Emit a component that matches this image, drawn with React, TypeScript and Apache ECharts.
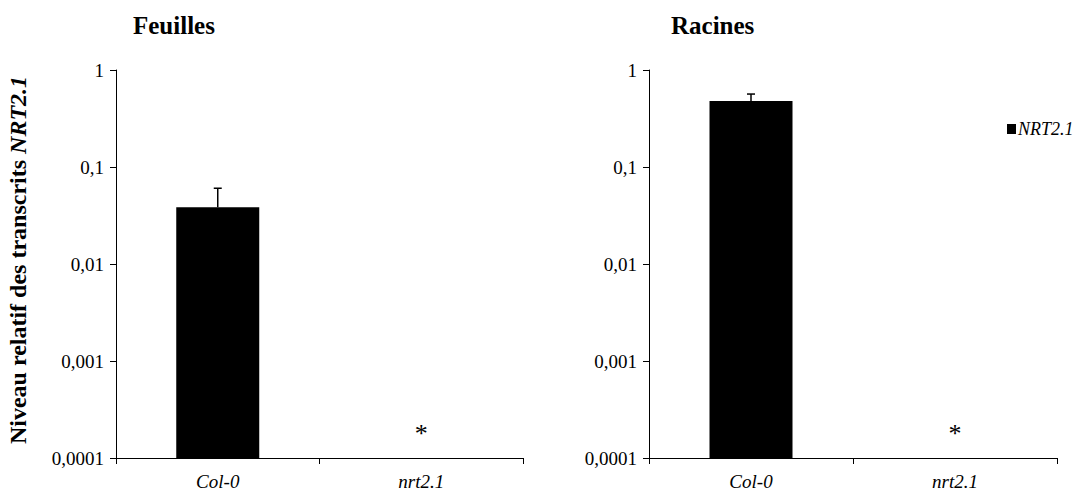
import React, { useEffect, useRef } from "react";
import * as echarts from "echarts";

const categories = ["Col-0", "nrt2.1"];
const panelTitles = ["Feuilles", "Racines"];
const seriesName = "NRT2.1";
const feuillesValues = [0.0384, null];
const feuillesErrors = [0.022, null];
const racinesValues = [0.479, null];
const racinesErrors = [0.086, null];
const asteriskValue = [null, 0.00018];
const yTickLabels = ["0,0001", "0,001", "0,01", "0,1", "1"];
const yMin = 0.0001;
const yMax = 1;

const FONT = "Liberation Serif";

export default function App() {
  const ref = useRef<HTMLDivElement>(null);
  useEffect(() => {
    document.body.style.margin = "0";
    const chart = echarts.init(ref.current!, null, { renderer: "svg" });
    const grids = [
      { left: 116, top: 70, width: 407, height: 388 },
      { left: 649, top: 70, width: 408, height: 388 },
    ];
    const valuesArr = [feuillesValues, racinesValues];
    const errArr = [feuillesErrors, racinesErrors];

    const xAxes = grids.map((_, i) => ({
      type: "category",
      gridIndex: i,
      data: categories,
      axisLine: { lineStyle: { color: "#000", width: 1 } },
      axisTick: { show: true, length: 6, lineStyle: { color: "#000" } },
      axisLabel: {
        color: "#000",
        fontFamily: FONT,
        fontStyle: "italic",
        fontSize: 19,
        margin: 14,
      },
    }));
    const yAxes = grids.map((_, i) => ({
      type: "log",
      logBase: 10,
      gridIndex: i,
      min: yMin,
      max: yMax,
      splitLine: { show: false },
      axisLine: { show: true, lineStyle: { color: "#000", width: 1 } },
      axisTick: { show: true, length: 6, lineStyle: { color: "#000" } },
      axisLabel: {
        color: "#000",
        fontFamily: FONT,
        fontSize: 19,
        margin: 12,
        formatter: (v: number) => {
          const e = Math.round(Math.log10(v));
          return yTickLabels[e + 4] ?? "";
        },
      },
      ...(i === 0
        ? {
            name: "{a|Niveau relatif des transcrits }{b|NRT2.1}",
            nameLocation: "middle",
            nameGap: 86,
            nameRotate: 90,
            nameTextStyle: {
              padding: [0, 0, 0, 8],
              rich: {
                a: { fontFamily: FONT, fontWeight: "bold", fontSize: 24, color: "#000" },
                b: {
                  fontFamily: FONT,
                  fontWeight: "bold",
                  fontStyle: "italic",
                  fontSize: 24,
                  color: "#000",
                },
              },
            },
          }
        : {}),
    }));

    const series: any[] = [];
    grids.forEach((_, i) => {
      series.push({
        name: seriesName,
        type: "custom",
        xAxisIndex: i,
        yAxisIndex: i,
        itemStyle: { color: "#000" },
        data: valuesArr[i]
          .map((v, k) => (v == null ? null : [k, v]))
          .filter((d) => d != null),
        renderItem: (params: any, api: any) => {
          const x = api.value(0);
          const v = api.value(1);
          const top = api.coord([x, v]);
          const base = api.coord([x, yMin]);
          const w = 83;
          return {
            type: "rect",
            shape: { x: top[0] - w / 2, y: top[1], width: w, height: base[1] - top[1] },
            style: { fill: "#000" },
          };
        },
        z: 2,
      });
      series.push({
        type: "custom",
        xAxisIndex: i,
        yAxisIndex: i,
        data: valuesArr[i]
          .map((v, k) => (v == null ? null : [k, v, errArr[i][k]]))
          .filter((d) => d != null),
        renderItem: (params: any, api: any) => {
          const x = api.value(0);
          const v = api.value(1);
          const e = api.value(2);
          const p0 = api.coord([x, v]);
          const p1 = api.coord([x, v + e]);
          return {
            type: "group",
            children: [
              {
                type: "line",
                shape: { x1: p0[0], y1: p0[1], x2: p1[0], y2: p1[1] },
                style: { stroke: "#000", lineWidth: 1.5 },
              },
              {
                type: "line",
                shape: { x1: p1[0] - 4, y1: p1[1], x2: p1[0] + 4, y2: p1[1] },
                style: { stroke: "#000", lineWidth: 1.5 },
              },
            ],
          };
        },
        z: 3,
      });
      series.push({
        type: "custom",
        xAxisIndex: i,
        yAxisIndex: i,
        data: asteriskValue
          .map((v, k) => (v == null ? null : [k, v]))
          .filter((d) => d != null),
        renderItem: (params: any, api: any) => {
          const p = api.coord([api.value(0), api.value(1)]);
          return {
            type: "text",
            x: p[0],
            y: p[1],
            style: {
              text: "*",
              fontFamily: FONT,
              fontSize: 26,
              fill: "#000",
              align: "center",
              verticalAlign: "middle",
            },
          };
        },
      });
    });

    chart.setOption({
      animation: false,
      backgroundColor: "#fff",
      title: panelTitles.map((t, i) => ({
        text: t,
        left: i === 0 ? 128 : 666,
        top: 8,
        textStyle: { fontFamily: FONT, fontWeight: "bold", fontSize: 25, color: "#000" },
      })),
      legend: {
        data: [{ name: seriesName, itemStyle: { color: "#000" } }],
        left: 1002,
        top: 115,
        icon: "rect",
        itemWidth: 9,
        itemHeight: 10,
        itemGap: 3,
        textStyle: { fontFamily: FONT, fontStyle: "italic", fontSize: 18, color: "#000", padding: [0, 0, 0, -3] },
      },
      grid: grids,
      xAxis: xAxes,
      yAxis: yAxes,
      series,
    });
    return () => chart.dispose();
  }, []);
  return <div ref={ref} style={{ width: 1084, height: 497 }} />;
}
